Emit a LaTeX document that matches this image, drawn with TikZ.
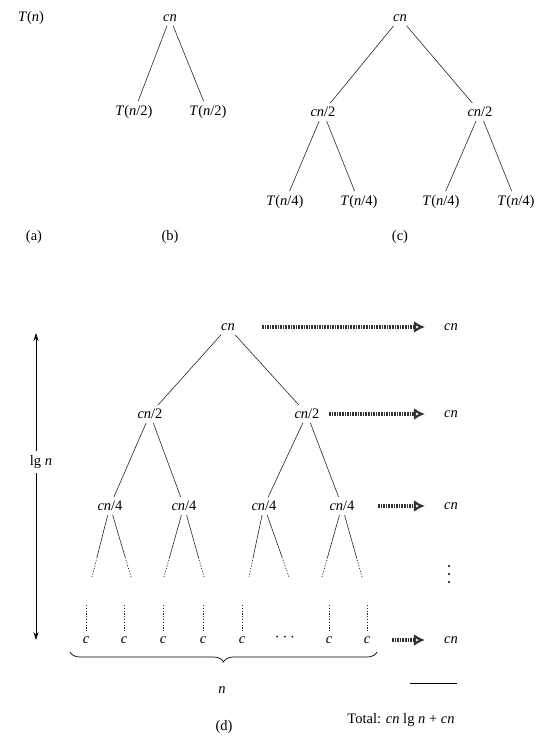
\documentclass[tikz,border=0pt]{standalone}
\usepackage{fontspec}
\setmainfont{Liberation Serif}
\usetikzlibrary{arrows.meta,calc,decorations.pathreplacing}
\tikzset{
  every node/.style={font=\fontsize{14.5}{17}\selectfont, inner sep=4pt},
  edge/.style={draw=black!85, line width=0.6pt},
  dotedge/.style={draw=black!85, line width=0.7pt, dash pattern=on 1.2pt off 1.6pt},
  sumarrow/.style={line width=3.2pt, dash pattern=on 1.6pt off 1pt, black!80,
    -{Latex[length=11pt,width=12pt,open]}, shorten >=15pt},
  heightarrow/.style={line width=0.7pt, -{Stealth[length=8pt,width=5pt]}},
}
\begin{document}
\begin{tikzpicture}[x=1pt,y=-1pt]
    \useasboundingbox (0,0) rectangle (553,745);
    % (a)
    \node (Ta) at (31,18) {\textit{T}(\textit{n})};
    \node (la) at (34,237) {(a)};
    % (b)
    \node (rb) at (170,18) {\textit{cn}};
    \node (b1) at (134,112) {\textit{T}(\textit{n}/2)};
    \node (b2) at (208,112) {\textit{T}(\textit{n}/2)};
    \node (lb) at (170,237) {(b)};
    \draw[edge] (rb) -- (b1);
    \draw[edge] (rb) -- (b2);
    % (c)
    \node (rc) at (400,18) {\textit{cn}};
    \node (c1) at (323,112) {\textit{cn}/2};
    \node (c2) at (480,112) {\textit{cn}/2};
    \node (c11) at (285,202) {\textit{T}(\textit{n}/4)};
    \node (c12) at (359,202) {\textit{T}(\textit{n}/4)};
    \node (c21) at (441,202) {\textit{T}(\textit{n}/4)};
    \node (c22) at (516,202) {\textit{T}(\textit{n}/4)};
    \node (lc) at (400,237) {(c)};
    \draw[edge] (rc) -- (c1);
    \draw[edge] (rc) -- (c2);
    \draw[edge] (c1) -- (c11);
    \draw[edge] (c1) -- (c12);
    \draw[edge] (c2) -- (c21);
    \draw[edge] (c2) -- (c22);
    % (d) tree
    \node (rd) at (228,327) {\textit{cn}};
    \node (d1) at (150,414) {\textit{cn}/2};
    \node (d2) at (307,414) {\textit{cn}/2};
    \node (q1) at (110,506) {\textit{cn}/4};
    \node (q2) at (184,506) {\textit{cn}/4};
    \node (q3) at (264,506) {\textit{cn}/4};
    \node (q4) at (342,506) {\textit{cn}/4};
    \draw[edge] (rd) -- (d1);
    \draw[edge] (rd) -- (d2);
    \draw[edge] (d1) -- (q1);
    \draw[edge] (d1) -- (q2);
    \draw[edge] (d2) -- (q3);
    \draw[edge] (d2) -- (q4);
    % fading branches below cn/4
    \foreach \q/\xl/\xr in {q1/92/131, q2/164/204, q3/249/289, q4/322/362} {
        \coordinate (\q l) at (\xl,577);
        \coordinate (\q r) at (\xr,577);
        \draw[edge] (\q) -- ($(\q l)!0.28!(\q)$);
        \draw[dotedge] ($(\q l)!0.28!(\q)$) -- (\q l);
        \draw[edge] (\q) -- ($(\q r)!0.28!(\q)$);
        \draw[dotedge] ($(\q r)!0.28!(\q)$) -- (\q r);
    }
    % leaves
    \foreach \i/\x in {1/86, 2/124, 3/163, 4/203, 5/242, 6/329, 7/367} {
        \node (c\i) at (\x,640) {\textit{c}};
        \coordinate (t\i) at (\x,605);
        \draw[dotedge] (t\i) -- (c\i);
    }
    \node[font=\fontsize{19}{20}\selectfont] (cdots) at (285,638) {$\cdots$};
    % height arrow
    \node (lgn) at (41,462) {lg \textit{n}};
    \coordinate (htop) at (36,333);
    \coordinate (hbot) at (36,640);
    \draw[heightarrow] (lgn.north -| htop) -- (htop);
    \draw[heightarrow] (lgn.south -| hbot) -- (hbot);
    % brace
    \coordinate (bl) at (70,652);
    \coordinate (br) at (377,652);
    \draw[line width=0.7pt, decorate, decoration={brace, mirror, amplitude=10pt}] (bl) -- (br);
    \node (nn) at (222,690) {\textit{n}};
    % level sums
    \node (k0) at (451,327) {\textit{cn}};
    \node (k1) at (451,414) {\textit{cn}};
    \node (k2) at (451,506) {\textit{cn}};
    \foreach \y in {566,574,582} \fill (449,\y) circle (1.2pt);
    \node (k3) at (451,640) {\textit{cn}};
    \coordinate (s0) at (262,327);
    \coordinate (s1) at (329,414);
    \coordinate (s2) at (378,506);
    \coordinate (s3) at (392,640);
    \draw[sumarrow] (s0) -- (k0);
    \draw[sumarrow] (s1) -- (k1);
    \draw[sumarrow] (s2) -- (k2);
    \draw[sumarrow] (s3) -- (k3);
    \coordinate (ul) at (410,683);
    \coordinate (ur) at (457,683);
    \draw[line width=0.8pt] (ul) -- (ur);
    \node (total) at (401,720) {Total: \textit{cn} lg \textit{n} + \textit{cn}};
    \node (ld) at (224,727) {(d)};
\end{tikzpicture}
\end{document}
